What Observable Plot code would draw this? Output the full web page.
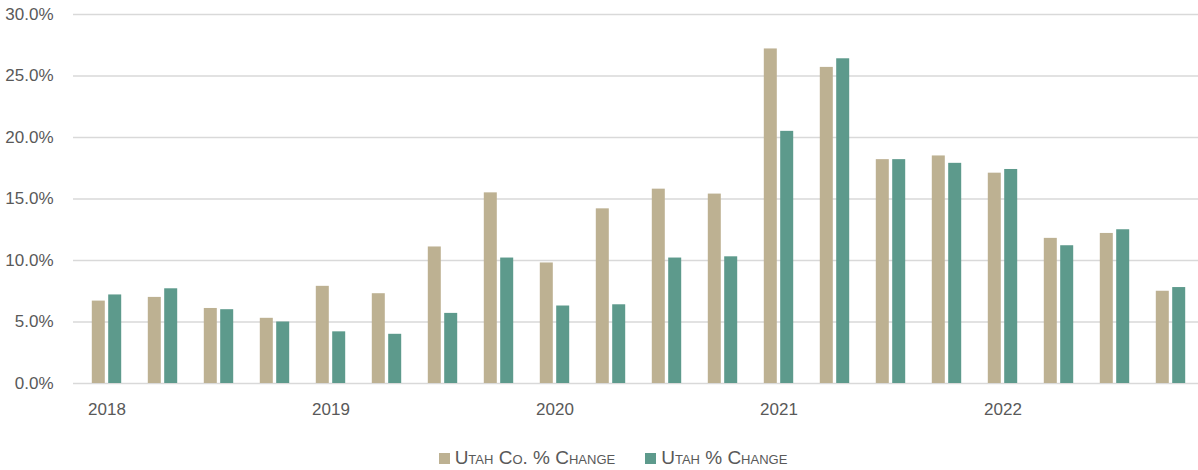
<!DOCTYPE html>
<html>
<head>
<meta charset="utf-8">
<script src="https://cdn.jsdelivr.net/npm/d3@7"></script>
<script src="https://cdn.jsdelivr.net/npm/@observablehq/plot@0.6"></script>
<style>
  html, body { margin: 0; padding: 0; background: #fff; }
  #chart { width: 1198px; overflow: hidden; }
  .legend {
    width: 1198px; height: 38px; box-sizing: border-box;
    padding-left: 28px; padding-top: 14px;
    display: flex; justify-content: center; align-items: center;
    font-family: "Liberation Sans", Arial, sans-serif;
    font-size: 19px; color: #595959; font-variant: small-caps; line-height: 22px;
  }
  .legend .item { display: flex; align-items: center; margin: 0 15px; }
  .legend .sw { width: 11px; height: 11px; margin-right: 5px; display: inline-block; }
</style>
</head>
<body>
<div id="chart"></div>
<script>
const quarters = [
  "2018 Q1","2018 Q2","2018 Q3","2018 Q4",
  "2019 Q1","2019 Q2","2019 Q3","2019 Q4",
  "2020 Q1","2020 Q2","2020 Q3","2020 Q4",
  "2021 Q1","2021 Q2","2021 Q3","2021 Q4",
  "2022 Q1","2022 Q2","2022 Q3","2022 Q4"
];
const yearTicks = ["2018 Q1","2019 Q1","2020 Q1","2021 Q1","2022 Q1"];
const seriesNames = ["Utah Co. % Change", "Utah % Change"];
const seriesColors = ["#BDB192", "#5D9A8C"];
const utahCo = [6.7, 7.0, 6.1, 5.3, 7.9, 7.3, 11.1, 15.5, 9.8, 14.2, 15.8, 15.4, 27.2, 25.7, 18.2, 18.5, 17.1, 11.8, 12.2, 7.5];
const utah   = [7.2, 7.7, 6.0, 5.0, 4.2, 4.0, 5.7, 10.2, 6.3, 6.4, 10.2, 10.3, 20.5, 26.4, 18.2, 17.9, 17.4, 11.2, 12.5, 7.8];
const yTicks = [0, 5, 10, 15, 20, 25, 30];

const rowsCo = quarters.map((q, i) => ({quarter: q, value: utahCo[i], series: seriesNames[0]}));
const rowsUt = quarters.map((q, i) => ({quarter: q, value: utah[i], series: seriesNames[1]}));

const font = '"Liberation Sans", Arial, sans-serif';

const chart = Plot.plot({
  width: 1198,
  height: 432,
  marginTop: 14,
  marginBottom: 49,
  marginLeft: 73,
  marginRight: 0,
  style: {fontFamily: font, fontSize: "17px", color: "#595959", background: "#fff"},
  x: {type: "band", domain: quarters, range: [73.8, 1202.6], paddingInner: 0.764, paddingOuter: 0.382, label: null},
  y: {domain: [0, 30], label: null},
  color: {domain: seriesNames, range: seriesColors},
  marks: [
    Plot.ruleY(yTicks, {stroke: "#D9D9D9", strokeWidth: 1.5}),
    Plot.barY(rowsCo, {x: "quarter", y: "value", fill: "series", dx: -8.2}),
    Plot.barY(rowsUt, {x: "quarter", y: "value", fill: "series", dx: 8.2}),
    Plot.axisY({ticks: yTicks, tickSize: 0, tickPadding: 20, tickFormat: d => d.toFixed(1) + "%", label: null, fill: "#595959"}),
    Plot.axisX({ticks: yearTicks, tickSize: 0, tickPadding: 19, tickFormat: d => d.slice(0, 4), label: null, fill: "#595959"})
  ]
});
document.getElementById("chart").appendChild(chart);

const legend = document.createElement("div");
legend.className = "legend";
seriesNames.forEach((name, i) => {
  const item = document.createElement("div");
  item.className = "item";
  const sw = document.createElement("span");
  sw.className = "sw";
  sw.style.background = seriesColors[i];
  const label = document.createElement("span");
  label.textContent = name;
  item.appendChild(sw);
  item.appendChild(label);
  legend.appendChild(item);
});
document.body.appendChild(legend);
</script>
</body>
</html>
